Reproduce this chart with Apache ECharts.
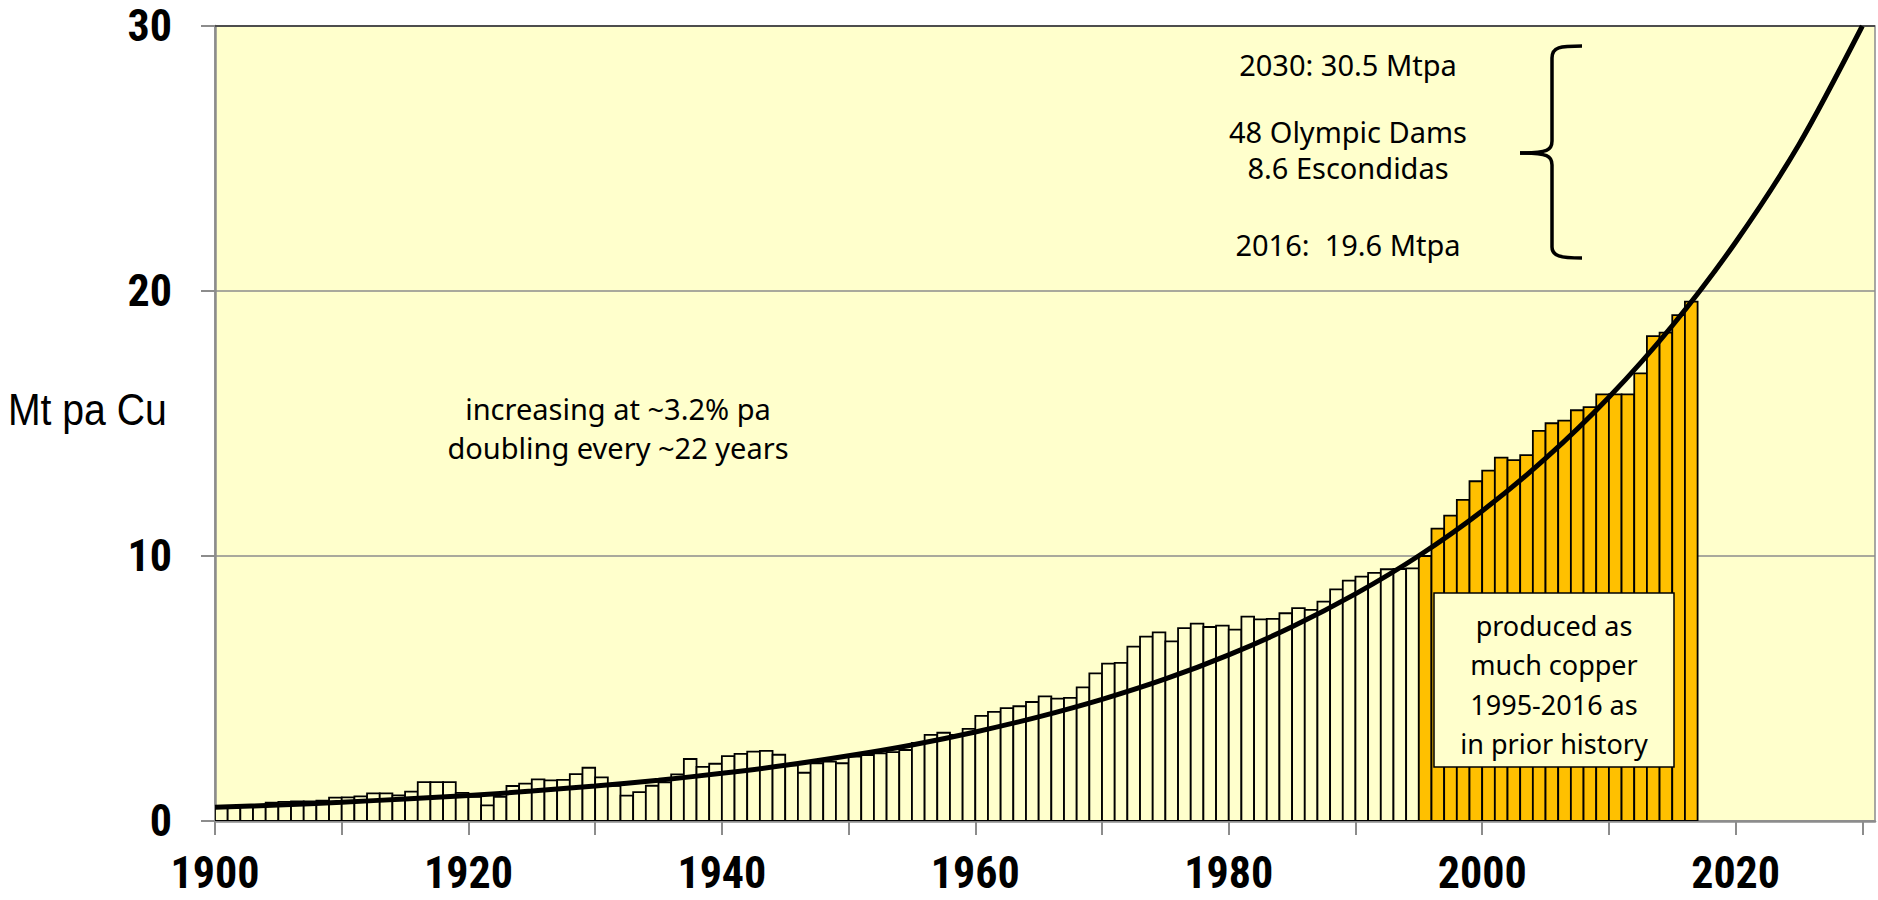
<!DOCTYPE html>
<html>
<head>
<meta charset="utf-8">
<script src="https://cdn.jsdelivr.net/npm/echarts@6/dist/echarts.min.js"></script>
<style>
  html, body { margin: 0; padding: 0; background: #ffffff; }
  #chart { width: 1878px; height: 900px; }
</style>
</head>
<body>
<div id="chart"></div>
<script>
// ---- Data ----
const years = [
  1900,1901,1902,1903,1904,1905,1906,1907,1908,1909,
  1910,1911,1912,1913,1914,1915,1916,1917,1918,1919,
  1920,1921,1922,1923,1924,1925,1926,1927,1928,1929,
  1930,1931,1932,1933,1934,1935,1936,1937,1938,1939,
  1940,1941,1942,1943,1944,1945,1946,1947,1948,1949,
  1950,1951,1952,1953,1954,1955,1956,1957,1958,1959,
  1960,1961,1962,1963,1964,1965,1966,1967,1968,1969,
  1970,1971,1972,1973,1974,1975,1976,1977,1978,1979,
  1980,1981,1982,1983,1984,1985,1986,1987,1988,1989,
  1990,1991,1992,1993,1994,1995,1996,1997,1998,1999,
  2000,2001,2002,2003,2004,2005,2006,2007,2008,2009,
  2010,2011,2012,2013,2014,2015,2016
];
// World copper production, Mt per year
const copperMt = [
  0.49,0.50,0.52,0.55,0.69,0.72,0.74,0.74,0.77,0.88,
  0.89,0.93,1.04,1.04,0.97,1.11,1.47,1.47,1.47,1.06,
  0.91,0.59,0.91,1.32,1.41,1.57,1.53,1.55,1.77,2.01,
  1.65,1.33,0.96,1.09,1.33,1.46,1.76,2.34,2.04,2.16,
  2.45,2.53,2.62,2.65,2.50,2.10,1.82,2.18,2.24,2.18,
  2.43,2.49,2.55,2.60,2.68,2.95,3.25,3.33,3.25,3.48,
  3.97,4.12,4.26,4.33,4.49,4.70,4.62,4.65,5.04,5.57,
  5.94,5.97,6.58,6.96,7.12,6.78,7.28,7.45,7.32,7.37,
  7.22,7.71,7.61,7.63,7.84,8.03,7.97,8.28,8.74,9.07,
  9.22,9.36,9.50,9.51,9.53,10.00,11.03,11.52,12.12,12.82,
  13.22,13.71,13.62,13.81,14.72,15.01,15.11,15.50,15.62,16.10,
  16.10,16.10,16.89,18.30,18.43,19.09,19.60
];
const highlightFromYear = 1995;   // orange bars: 1995-2016

// Trend curve (~3.2% pa growth)
const trendYears  = [1900,1905,1910,1915,1920,1925,1930,1935,1940,1945,1950,1955,1960,1965,1970,1975,1980,1985,1990,1995,2000,2005,2010,2015,2020,2025,2030];
const trendValues = [0.52,0.60,0.71,0.83,0.96,1.13,1.32,1.54,1.80,2.10,2.46,2.87,3.36,3.93,4.59,5.36,6.27,7.33,8.57,10.01,11.70,13.68,15.99,18.69,21.84,25.53,30.00];

const xTickYears = [1900,1910,1920,1930,1940,1950,1960,1970,1980,1990,2000,2010,2020,2030];
const xLabelYears = [1900,1920,1940,1960,1980,2000,2020];

const yAxisTitle = 'Mt pa Cu';
const growthNote = ['increasing at ~3.2% pa', 'doubling every ~22 years'];
const rightNote = ['2030: 30.5 Mtpa', '48 Olympic Dams', '8.6 Escondidas', '2016:  19.6 Mtpa'];
const boxNote = ['produced as', 'much copper', '1995-2016 as', 'in prior history'];

// ---- Build series data ----
const histData = [], recentData = [];
years.forEach((y, i) => {
  (y >= highlightFromYear ? recentData : histData).push([y, copperMt[i]]);
});
const trendData = trendYears.map((y, i) => [y, trendValues[i]]);

function barRenderer(fill) {
  return function (params, api) {
    const yr = api.value(0), v = api.value(1);
    const p0 = api.coord([yr, 0]);
    const p1 = api.coord([yr + 1, v]);
    return {
      type: 'rect',
      shape: { x: p0[0], y: p1[1], width: p1[0] - p0[0], height: p0[1] - p1[1] },
      style: { fill: fill, stroke: '#000000', lineWidth: 1.8 }
    };
  };
}

const annoFont = '"Noto Sans", "Open Sans", sans-serif';
const tickFont = '"Liberation Sans Narrow", "Arial Narrow", "Roboto Condensed", "Liberation Sans", sans-serif';

const graphics = [];
// y axis title (narrowed to match the condensed face of the original)
graphics.push({
  type: 'group', x: 8, y: 410, scaleX: 0.87, z: 10,
  children: [{
    type: 'text', x: 0, y: 0, z: 10,
    style: { text: yAxisTitle, fontFamily: '"Liberation Sans", Arial, sans-serif', fontSize: 45, fill: '#000', align: 'left', verticalAlign: 'middle' }
  }]
});
// growth note
growthNote.forEach((t, i) => {
  graphics.push({
    type: 'text', x: 618, y: 408 + i * 39, z: 10,
    style: { text: t, fontFamily: annoFont, fontSize: 29, fill: '#000', align: 'center', verticalAlign: 'middle' }
  });
});
// right note
const rightNoteY = [64, 131, 167, 244];
rightNote.forEach((t, i) => {
  graphics.push({
    type: 'text', x: 1348, y: rightNoteY[i], z: 10,
    style: { text: t, fontFamily: annoFont, fontSize: 29, fill: '#000', align: 'center', verticalAlign: 'middle' }
  });
});
// curly brace
const braceStyle = { fill: 'none', stroke: '#000', lineWidth: 3.5 };
graphics.push(
  { type: 'bezierCurve', z: 10, shape: { x1: 1582, y1: 46, cpx1: 1560, cpy1: 46, cpx2: 1552, cpy2: 47, x2: 1552, y2: 58 }, style: braceStyle },
  { type: 'line', z: 10, shape: { x1: 1552, y1: 58, x2: 1552, y2: 141 }, style: braceStyle },
  { type: 'bezierCurve', z: 10, shape: { x1: 1552, y1: 141, cpx1: 1552, cpy1: 150, cpx2: 1548, cpy2: 153, x2: 1520, y2: 153 }, style: braceStyle },
  { type: 'bezierCurve', z: 10, shape: { x1: 1520, y1: 153, cpx1: 1548, cpy1: 153, cpx2: 1552, cpy2: 156, x2: 1552, y2: 165 }, style: braceStyle },
  { type: 'line', z: 10, shape: { x1: 1552, y1: 165, x2: 1552, y2: 247 }, style: braceStyle },
  { type: 'bezierCurve', z: 10, shape: { x1: 1552, y1: 247, cpx1: 1552, cpy1: 256, cpx2: 1560, cpy2: 258, x2: 1582, y2: 258 }, style: braceStyle }
);
// darker top border of plot area
graphics.push({
  type: 'line', z: 1, shape: { x1: 215, y1: 26, x2: 1875, y2: 26 },
  style: { stroke: '#4d4d4d', lineWidth: 2 }
});
// annotation box
graphics.push({
  type: 'rect', z: 20,
  shape: { x: 1434, y: 593, width: 240, height: 174 },
  style: { fill: '#FFFFCC', stroke: '#000', lineWidth: 1.5 }
});
boxNote.forEach((t, i) => {
  graphics.push({
    type: 'text', x: 1554, y: 625 + i * 39.5, z: 21,
    style: { text: t, fontFamily: annoFont, fontSize: 27, fill: '#000', align: 'center', verticalAlign: 'middle' }
  });
});

const chart = echarts.init(document.getElementById('chart'), null, { renderer: 'svg' });

const option = {
  animation: false,
  backgroundColor: '#ffffff',
  grid: {
    left: 215, right: 3, top: 26, bottom: 79,
    show: true, backgroundColor: '#FFFFCC', borderColor: '#8C8C8C', borderWidth: 1.5
  },
  xAxis: {
    type: 'value', min: 1900, max: 2031, interval: 10,
    axisLine: { show: true, onZero: false, lineStyle: { color: '#8C8C8C', width: 2.5 } },
    axisTick: { show: true, length: 14, customValues: xTickYears, lineStyle: { color: '#8C8C8C', width: 2 } },
    axisLabel: {
      customValues: xLabelYears, margin: 30,
      formatter: function (v) { return String(v); },
      fontFamily: tickFont, fontWeight: 'bold', fontSize: 44, color: '#000'
    },
    splitLine: { show: false }
  },
  yAxis: {
    type: 'value', min: 0, max: 30, interval: 10,
    axisLine: { show: true, lineStyle: { color: '#8C8C8C', width: 2.5 } },
    axisTick: { show: true, length: 14, lineStyle: { color: '#8C8C8C', width: 2 } },
    axisLabel: { margin: 43, fontFamily: tickFont, fontWeight: 'bold', fontSize: 44, color: '#000' },
    splitLine: { show: true, lineStyle: { color: '#8C8C8C', width: 1.5 } }
  },
  series: [
    { type: 'custom', name: 'history', data: histData, encode: { x: 0, y: 1 }, renderItem: barRenderer('#FFFFCC'), z: 2, clip: true },
    { type: 'custom', name: 'recent', data: recentData, encode: { x: 0, y: 1 }, renderItem: barRenderer('#FFC000'), z: 2, clip: true },
    {
      type: 'line', name: 'trend', data: trendData, smooth: 0.3, symbol: 'none', clip: true, z: 5,
      lineStyle: { color: '#000', width: 5 }
    }
  ],
  graphic: graphics
};
chart.setOption(option);
</script>
</body>
</html>
